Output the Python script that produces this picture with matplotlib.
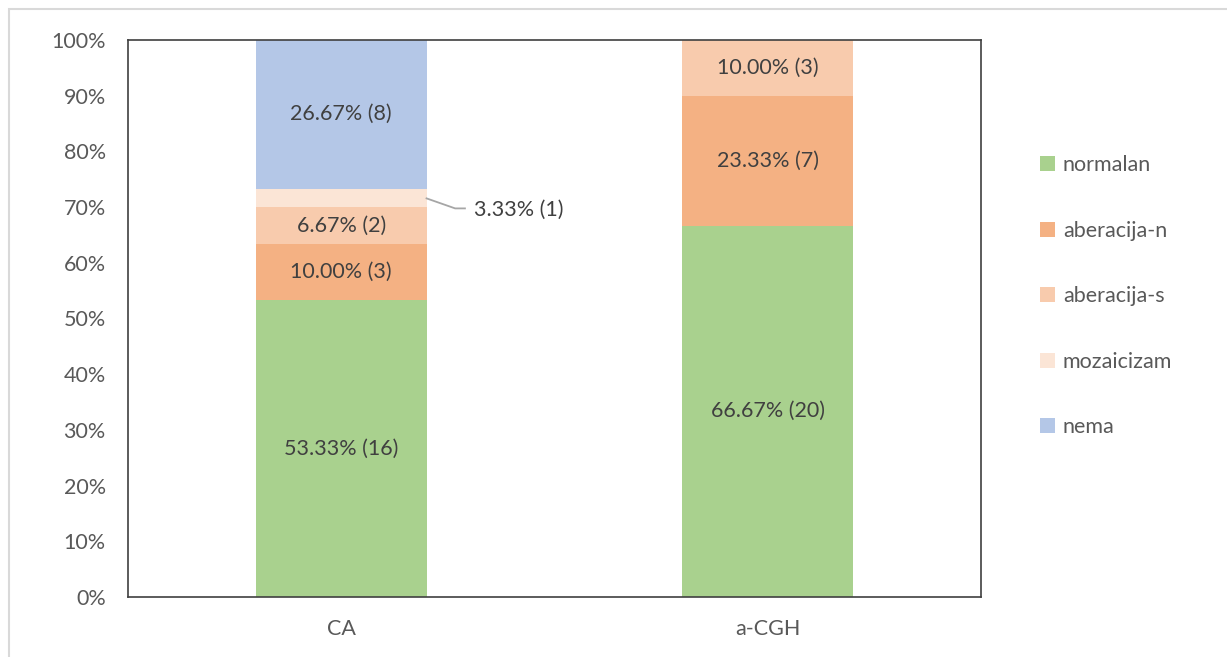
import matplotlib.pyplot as plt
from matplotlib.patches import Rectangle
import numpy as np

# Data
categories = ['CA', 'a-CGH']
series = ['normalan', 'aberacija-n', 'aberacija-s', 'mozaicizam', 'nema']
counts = {
    'normalan': [16, 20],
    'aberacija-n': [3, 7],
    'aberacija-s': [2, 3],
    'mozaicizam': [1, 0],
    'nema': [8, 0],
}
colors = ['#A9D18E', '#F4B183', '#F8CBAD', '#FBE5D6', '#B4C7E7']

plt.rcParams['font.family'] = ['Lato', 'DejaVu Sans']
FS = 15.5

fig = plt.figure(figsize=(12.27, 6.57), dpi=100)
ax = fig.add_axes([128 / 1227, 60 / 657, 853 / 1227, 557 / 657])

# Light gray outer border of the chart area
fig.patches.append(Rectangle((9 / 1227, -0.1), 1.2, (657 - 9) / 657 + 0.1,
                             transform=fig.transFigure, fill=False,
                             edgecolor='#D9D9D9', linewidth=1.5))

totals = np.sum([counts[s] for s in series], axis=0)
x = np.arange(len(categories))
bottom = np.zeros(len(categories))
handles = []
for s, c in zip(series, colors):
    vals = np.array(counts[s], dtype=float)
    pct = vals / totals * 100
    h = ax.bar(x, pct, 0.4, bottom=bottom, color=c, label=s)
    handles.append(h)
    for i in range(len(categories)):
        if vals[i] == 0:
            continue
        label = f"{pct[i]:.2f}% ({int(vals[i])})"
        yc = bottom[i] + pct[i] / 2
        if s == 'mozaicizam':
            # small slice: label outside with a leader line
            ax.plot([x[i] + 0.2, x[i] + 0.267, x[i] + 0.29], [yc - 0.1, yc - 1.9, yc - 1.9],
                    color='#A6A6A6', lw=1.3, clip_on=False)
            ax.text(x[i] + 0.312, yc - 2.1, label, fontsize=FS, color='#404040',
                    va='center', ha='left')
        else:
            ax.text(x[i], yc, label, ha='center', va='center', fontsize=FS, color='#404040')
    bottom += pct

ax.set_xlim(-0.5, 1.5)
ax.set_ylim(0, 100)
ax.set_xticks(x)
ax.set_xticklabels(categories)
ax.set_yticks(np.arange(0, 101, 10))
ax.set_yticklabels([f"{v}%" for v in range(0, 101, 10)])
ax.tick_params(length=0, labelsize=FS, labelcolor='#595959')
ax.tick_params(axis='y', pad=16)
ax.tick_params(axis='x', pad=16)
for sp in ax.spines.values():
    sp.set_color('#404040')
    sp.set_linewidth(1.2)

fig.legend(handles=handles, labels=series, loc='upper left',
           bbox_to_anchor=(1021 / 1227, 1 - 136 / 657), frameon=False,
           fontsize=FS, labelcolor='#595959', handlelength=0.7, handleheight=0.7,
           handletextpad=0.35, labelspacing=2.11)

plt.savefig('out.png', dpi=100)
